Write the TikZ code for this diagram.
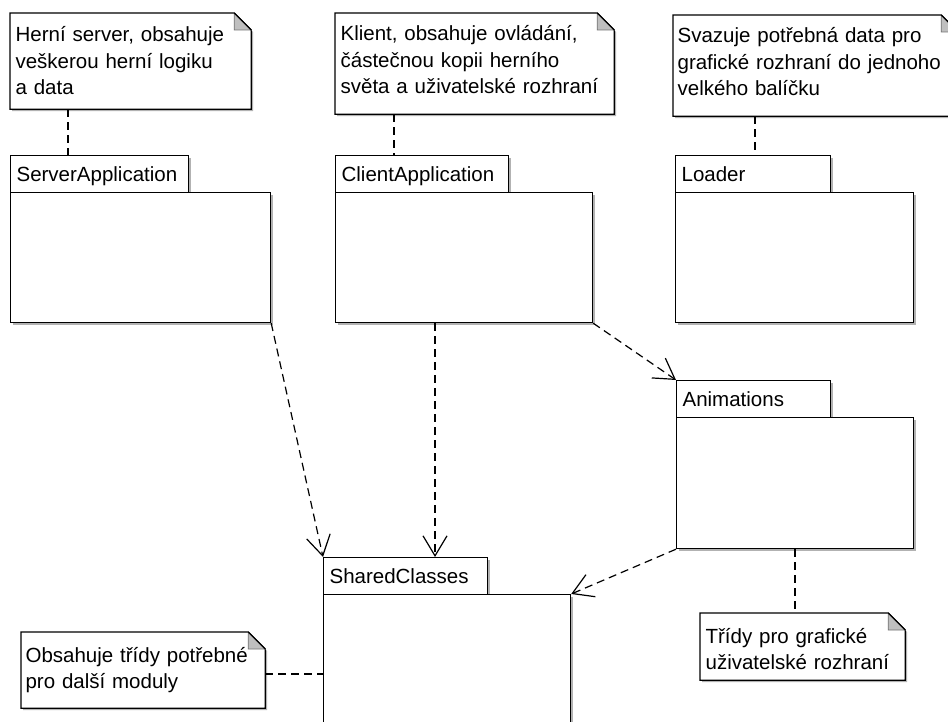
\documentclass[tikz,border=0pt]{standalone}
\usepackage{fontspec}
\setmainfont{Liberation Sans}
\usetikzlibrary{arrows.meta,shadows}

% folded-corner note outline drawn around an (invisible) sized node
\newcommand\foldnote[1]{%
  \path[notepath] (#1.north west) -- ([xshift=-17pt]#1.north east)
    -- ([yshift=-17pt]#1.north east) -- (#1.south east) -- (#1.south west) -- cycle;
  \filldraw[fold] ([xshift=-17pt]#1.north east) -- ([xshift=-17pt,yshift=-17pt]#1.north east)
    -- ([yshift=-17pt]#1.north east) -- cycle;
  \draw ([xshift=-17pt]#1.north east) -- ([yshift=-17pt]#1.north east);
}

\begin{document}
\begin{tikzpicture}[x=1pt,y=-1pt,line width=1.2pt,
  every node/.style={font=\fontsize{20.5}{26.5}\selectfont},
  shadowed/.style={drop shadow={shadow xshift=2pt,shadow yshift=-2pt,fill=black!30,opacity=1}},
  pkgtab/.style={draw,fill=white,shadowed,anchor=north west,inner sep=0pt,
    minimum height=37pt,text height=16pt,text depth=2pt,align=left},
  pkgbody/.style={draw,fill=white,shadowed,anchor=north west,inner sep=0pt},
  notebox/.style={anchor=north west,inner sep=0pt},
  notepath/.style={draw,fill=white,shadowed},
  fold/.style={fill=black!25,draw=black!55,line width=0.8pt},
  notetext/.style={anchor=base west,inner sep=0pt,align=left,text width=300pt},
  link/.style={dash pattern=on 8pt off 5pt},
  dep/.style={dash pattern=on 8pt off 5pt,-{Straight Barb[length=20pt,width=24pt]}}]

\clip (0,0) rectangle (948,722);

% packages
\node[pkgtab,minimum width=178pt,text width=166pt] (stab) at (10,155) {ServerApplication};
\node[pkgbody,minimum width=260pt,minimum height=130pt] (sbody) at (10,192) {};

\node[pkgtab,minimum width=173pt,text width=161pt] (ctab) at (335,155) {ClientApplication};
\node[pkgbody,minimum width=257pt,minimum height=130pt] (cbody) at (335,192) {};

\node[pkgtab,minimum width=155pt,text width=143pt] (ltab) at (675,155) {Loader};
\node[pkgbody,minimum width=238pt,minimum height=130pt] (lbody) at (675,192) {};

\node[pkgtab,minimum width=154pt,text width=142pt] (atab) at (676,380) {Animations};
\node[pkgbody,minimum width=237pt,minimum height=131pt] (abody) at (676,417) {};

\node[pkgtab,minimum width=164pt,text width=152pt] (shtab) at (323,557) {SharedClasses};
\node[pkgbody,minimum width=247pt,minimum height=160pt] (shbody) at (323,594) {};

% notes
\node[notebox,minimum width=240pt,minimum height=95pt] (n1) at (10,13) {};
\foldnote{n1}
\node[notetext] (n1t) at ([shift={(5,29)}]n1.north west)
  {Herní server, obsahuje\\veškerou herní logiku\\a data};

\node[notebox,minimum width=278pt,minimum height=100pt] (n2) at (335,13) {};
\foldnote{n2}
\node[notetext] (n2t) at ([shift={(5,28)}]n2.north west)
  {Klient, obsahuje ovládání,\\částečnou kopii herního\\světa a uživatelské rozhraní};

\node[notebox,minimum width=284pt,minimum height=100pt] (n3) at (673,15) {};
\foldnote{n3}
\node[notetext] (n3t) at ([shift={(4,28)}]n3.north west)
  {Svazuje potřebná data pro\\grafické rozhraní do jednoho\\velkého balíčku};

\node[notebox,minimum width=243pt,minimum height=75pt] (n4) at (21,632) {};
\foldnote{n4}
\node[notetext] (n4t) at ([shift={(4,30)}]n4.north west)
  {Obsahuje třídy potřebné\\pro další moduly};

\node[notebox,minimum width=204pt,minimum height=66pt] (n5) at (700,613) {};
\foldnote{n5}
\node[notetext] (n5t) at ([shift={(5,30)}]n5.north west)
  {Třídy pro grafické\\uživatelské rozhraní};

% note attachments
\draw[link] ([shift={(58,0)}]n1.south west) -- ([shift={(58,0)}]stab.north west);
\draw[link] ([shift={(59,0)}]n2.south west) -- ([shift={(59,0)}]ctab.north west);
\draw[link] ([shift={(82,0)}]n3.south west) -- ([shift={(80,0)}]ltab.north west);
\draw[link] ([shift={(119,0)}]abody.south west) -- ([shift={(95,0)}]n5.north west);
\draw[link] ([shift={(0,42)}]n4.north east) -- ([shift={(0,80)}]shbody.north west);

% dependencies
\draw[dep] (sbody.south east) -- (shtab.north west);
\draw[dep] ([shift={(100,0)}]cbody.south west) -- ([shift={(112,0)}]shtab.north west);
\draw[dep] (cbody.south east) -- (atab.north west);
\draw[dep] (abody.south west) -- (shbody.north east);

\end{tikzpicture}
\end{document}
